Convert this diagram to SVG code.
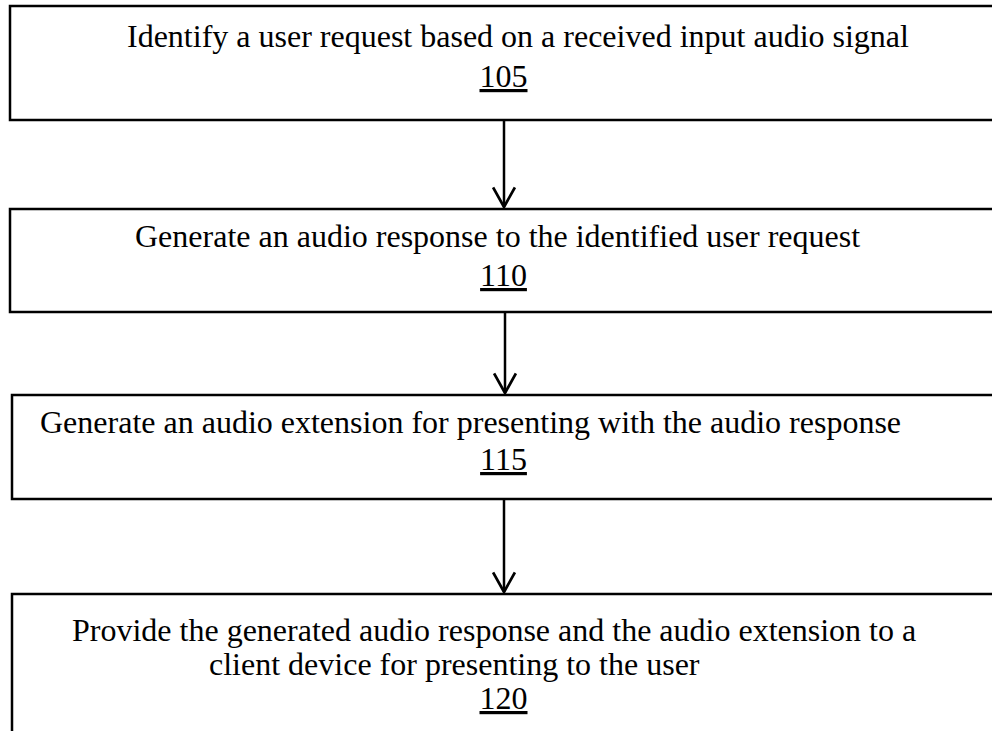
<svg xmlns="http://www.w3.org/2000/svg" width="992" height="731" viewBox="0 0 992 731">
<style>
.box{fill:#fff;stroke:#000;stroke-width:2.5}
.t{font-family:"Liberation Serif","Times New Roman",serif;font-size:32px;fill:#000}
.n{text-anchor:middle;text-decoration:underline}
.c{stroke:#000;stroke-width:2.5;fill:none}
</style>
<defs>
<marker id="ah" markerUnits="userSpaceOnUse" markerWidth="22" markerHeight="24" refX="19" refY="11" orient="auto" viewBox="0 0 20 22">
<path d="M1,1 L19,11 L1,21" fill="none" stroke="#000" stroke-width="2.5"/>
</marker>
</defs>
<g id="node105">
<rect class="box" x="10" y="6" width="1000" height="114"/>
<text class="t" x="127" y="47">Identify a user request based on a received input audio signal</text>
<text class="t n" x="503.5" y="87">105</text>
</g>
<g id="node110">
<rect class="box" x="10" y="209" width="1000" height="103"/>
<text class="t" x="135" y="247">Generate an audio response to the identified user request</text>
<text class="t n" x="503.5" y="286">110</text>
</g>
<g id="node115">
<rect class="box" x="12" y="395" width="1000" height="104"/>
<text class="t" x="40" y="433">Generate an audio extension for presenting with the audio response</text>
<text class="t n" x="503.5" y="470">115</text>
</g>
<g id="node120">
<rect class="box" x="12" y="594" width="1000" height="160"/>
<text class="t" x="72" y="641">Provide the generated audio response and the audio extension to a</text>
<text class="t" x="209" y="675">client device for presenting to the user</text>
<text class="t n" x="503.5" y="709">120</text>
</g>
<g id="connectors">
<line class="c" x1="504" y1="121" x2="504" y2="207" marker-end="url(#ah)"/>
<line class="c" x1="505" y1="313" x2="505" y2="393" marker-end="url(#ah)"/>
<line class="c" x1="504" y1="500" x2="504" y2="592" marker-end="url(#ah)"/>
</g>
</svg>
